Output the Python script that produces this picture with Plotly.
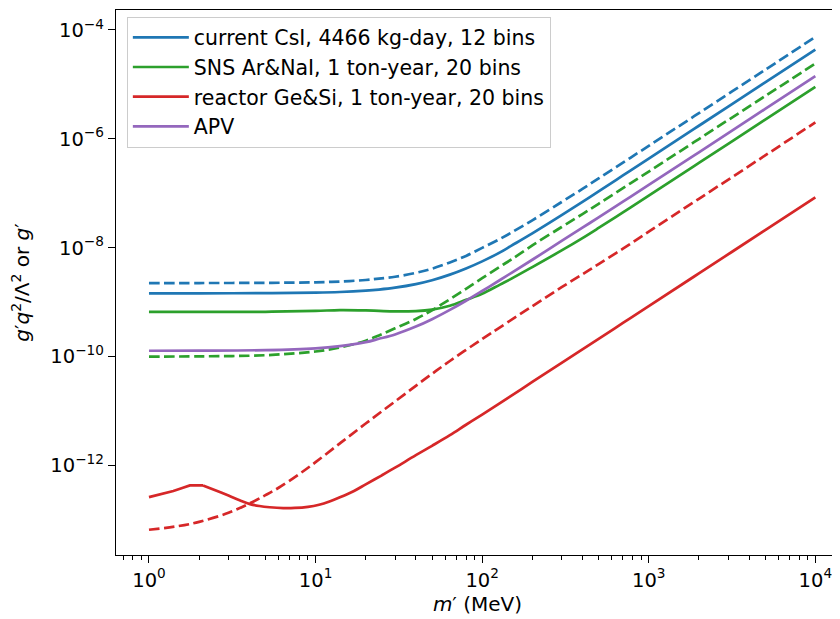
import plotly.graph_objects as go

# ---- data ----
m_main = [1, 2, 5, 10, 14, 20, 24, 30, 40, 50, 64, 80, 100, 128, 150, 200, 300, 400, 500, 700, 1000, 2000, 5000, 10000]

csi_solid = [1.45e-9, 1.452e-9, 1.461e-9, 1.494e-9, 1.535e-9, 1.624e-9, 1.70e-9, 1.84e-9, 2.14e-9, 2.52e-9, 3.2e-9, 4.15e-9, 5.6e-9, 8.2e-9, 1.09e-8, 1.83e-8, 3.95e-8, 6.95e-8, 1.08e-7, 2.12e-7, 4.33e-7, 1.735e-6, 1.087e-5, 4.35e-5]
csi_dash = [2.24e-9, 2.243e-9, 2.26e-9, 2.31e-9, 2.39e-9, 2.55e-9, 2.70e-9, 2.93e-9, 3.45e-9, 4.12e-9, 5.35e-9, 7.05e-9, 9.9e-9, 1.45e-8, 1.9e-8, 3.18e-8, 6.9e-8, 1.2e-7, 1.87e-7, 3.65e-7, 7.42e-7, 2.96e-6, 1.85e-5, 7.4e-5]

sns_solid = [6.6e-10, 6.6e-10, 6.65e-10, 6.9e-10, 7.15e-10, 7.05e-10, 6.9e-10, 6.75e-10, 6.85e-10, 7.3e-10, 8.6e-10, 1.1e-9, 1.42e-9, 2.1e-9, 2.7e-9, 4.4e-9, 8.9e-9, 1.5e-8, 2.3e-8, 4.45e-8, 9.0e-8, 3.6e-7, 2.25e-6, 8.97e-6]
sns_dash = [1.0e-10, 1.01e-10, 1.06e-10, 1.24e-10, 1.47e-10, 1.96e-10, 2.45e-10, 3.3e-10, 4.9e-10, 7.1e-10, 1.13e-9, 1.76e-9, 2.75e-9, 4.5e-9, 6.1e-9, 1.1e-8, 2.4e-8, 4.15e-8, 6.4e-8, 1.24e-7, 2.5e-7, 9.9e-7, 6.1e-6, 2.4e-5]

apv = [1.28e-10, 1.286e-10, 1.315e-10, 1.42e-10, 1.56e-10, 1.84e-10, 2.12e-10, 2.55e-10, 3.55e-10, 4.85e-10, 7.2e-10, 1.06e-9, 1.6e-9, 2.55e-9, 3.45e-9, 6.0e-9, 1.33e-8, 2.33e-8, 3.6e-8, 7.0e-8, 1.42e-7, 5.65e-7, 3.53e-6, 1.41e-5]

m_red_dash = [1, 1.5, 2, 3, 4, 5, 6, 8, 10, 14, 20, 30, 45, 64, 100, 128, 200, 300, 400, 500, 700, 1000, 2000, 5000, 10000]
reactor_dash = [6.6e-14, 7.7e-14, 9.2e-14, 1.35e-13, 2.0e-13, 2.85e-13, 3.9e-13, 7.0e-13, 1.15e-12, 2.55e-12, 5.9e-12, 1.5e-11, 3.8e-11, 8.3e-11, 2.1e-10, 3.45e-10, 8.4e-10, 1.88e-9, 3.25e-9, 5.0e-9, 9.6e-9, 1.97e-8, 7.9e-8, 4.95e-7, 2.0e-6]

# reactor solid: low-mass bump (piecewise) and smooth rest
m_red_bump = [1, 1.2, 1.4, 1.6, 1.76, 2.11]
reactor_bump = [2.62e-13, 3.0e-13, 3.4e-13, 3.9e-13, 4.3e-13, 4.3e-13]
m_red_tail = [2.11, 2.5, 3, 3.5, 4.04, 4.6, 5.3, 6.4, 7.5, 9, 10.5, 12, 14, 17, 20, 25, 30, 40, 50, 64, 80, 100, 150, 200, 300, 500, 700, 1000, 2000, 5000, 10000]
reactor_tail = [4.3e-13, 3.5e-13, 2.8e-13, 2.3e-13, 1.95e-13, 1.8e-13, 1.71e-13, 1.65e-13, 1.66e-13, 1.74e-13, 1.9e-13, 2.15e-13, 2.6e-13, 3.4e-13, 4.5e-13, 6.6e-13, 9.1e-13, 1.55e-12, 2.3e-12, 3.6e-12, 5.6e-12, 8.6e-12, 1.92e-11, 3.42e-11, 7.65e-11, 2.12e-10, 4.15e-10, 8.45e-10, 3.37e-9, 2.1e-8, 8.4e-8]

labels = ["current CsI, 4466 kg-day, 12 bins", "SNS Ar&NaI, 1 ton-year, 20 bins",
          "reactor Ge&Si, 1 ton-year, 20 bins", "APV"]
colors = ["#1f77b4", "#2ca02c", "#d62728", "#9467bd"]

y_tickvals = [1e-12, 1e-10, 1e-8, 1e-6, 1e-4]
y_ticktext = ["10<sup>−12</sup>", "10<sup>−10</sup>", "10<sup>−8</sup>", "10<sup>−6</sup>", "10<sup>−4</sup>"]
x_tickvals = [1, 10, 100, 1000, 10000]
x_ticktext = ["10<sup>0</sup>", "10<sup>1</sup>", "10<sup>2</sup>", "10<sup>3</sup>", "10<sup>4</sup>"]
x_minor = [0.7, 0.8, 0.9] + [k * 10 ** d for d in range(0, 4) for k in range(2, 10)]

LW = 2.7
DASH = "10.5px,4.5px"

fig = go.Figure()

def add(x, y, color, dashed, name=None, shape="spline", legend=None):
    fig.add_trace(go.Scatter(
        x=x, y=y, mode="lines",
        line=dict(color=color, width=LW, dash=DASH if dashed else "solid",
                  shape=shape, smoothing=1.0 if shape == "spline" else None),
        name=name if name else "",
        showlegend=(bool(name) and not dashed) if legend is None else legend,
        hoverinfo="skip"))

add(m_main, csi_solid, colors[0], False, labels[0])
add(m_main, csi_dash, colors[0], True)
add(m_main, sns_solid, colors[1], False, labels[1])
add(m_main, sns_dash, colors[1], True)
add(m_red_bump, reactor_bump, colors[2], False, labels[2], shape="linear")
add(m_red_tail, reactor_tail, colors[2], False, labels[2], legend=False)
add(m_red_dash, reactor_dash, colors[2], True)
add(m_main, apv, colors[3], False, labels[3])

font = "DejaVu Sans, sans-serif"
fig.update_layout(
    width=832, height=611,
    margin=dict(l=108, r=1, t=2, b=64),
    paper_bgcolor="white", plot_bgcolor="white",
    font=dict(family=font, size=19.5, color="black"),
    showlegend=True,
    legend=dict(x=0.015, y=0.988, xanchor="left", yanchor="top",
                bgcolor="rgba(255,255,255,0.8)", bordercolor="#cccccc", borderwidth=1,
                font=dict(size=20.5), tracegroupgap=0, itemwidth=56),
    xaxis=dict(type="log", range=[-0.198, 4.142],
               showline=True, mirror=True, linecolor="black", linewidth=1.3,
               showgrid=False, zeroline=False,
               ticks="outside", ticklen=7, tickwidth=1.3, tickcolor="black",
               tickvals=x_tickvals, ticktext=x_ticktext,
               minor=dict(ticks="outside", ticklen=4, tickwidth=1, tickcolor="black",
                          tickvals=x_minor, showgrid=False),
               title=dict(text="<i>m</i>′ (MeV)", font=dict(size=20), standoff=6)),
    yaxis=dict(type="log", range=[-13.644, -3.635],
               showline=True, mirror=True, linecolor="black", linewidth=1.3,
               showgrid=False, zeroline=False,
               ticks="outside", ticklen=7, tickwidth=1.3, tickcolor="black",
               tickvals=y_tickvals, ticktext=y_ticktext,
               title=dict(text="<i>g</i>′<i>q</i><sup>2</sup>/Λ<sup>2</sup> or <i>g</i>′",
                          font=dict(size=20), standoff=16)),
)

fig.write_html("out.html")
